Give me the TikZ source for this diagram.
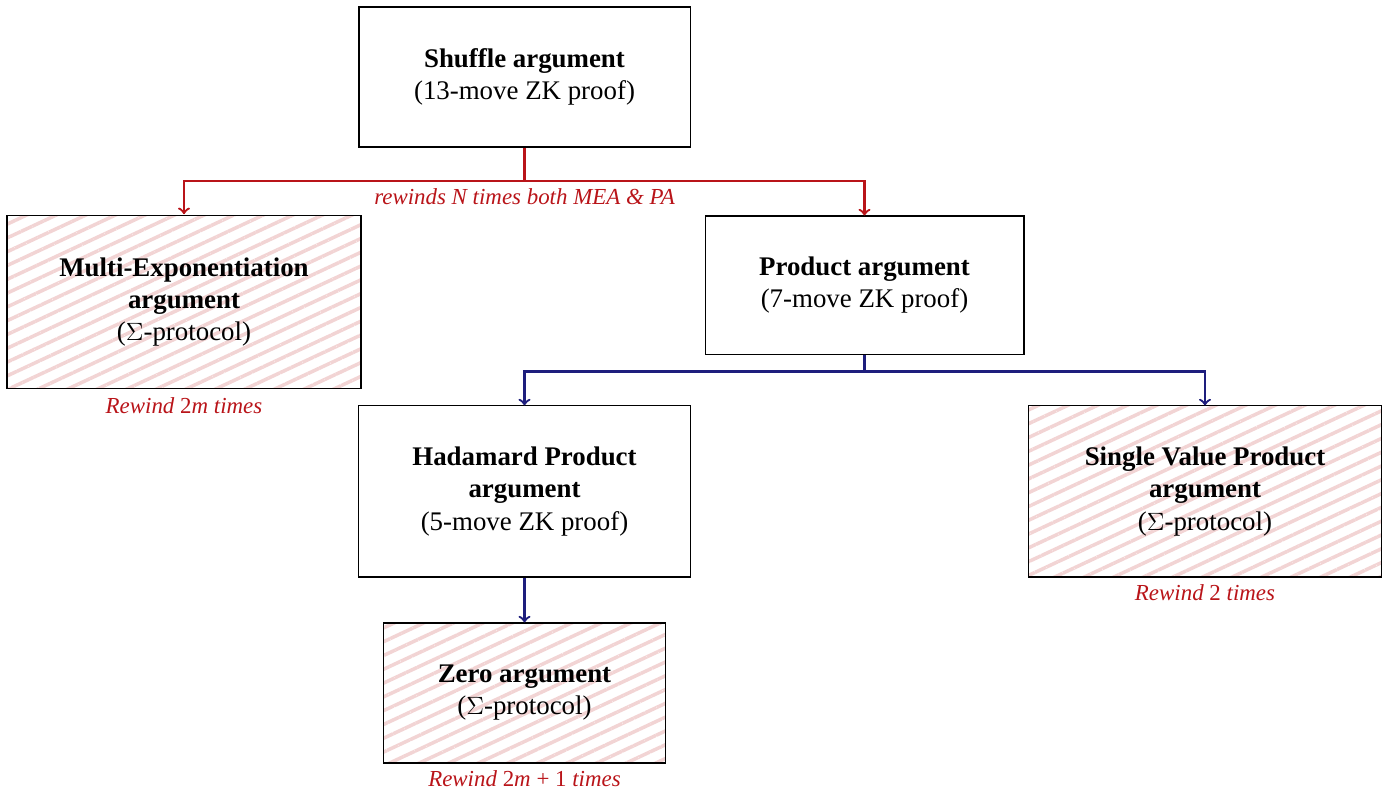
\documentclass[tikz,border=0pt]{standalone}
\usepackage{fontspec}
\setmainfont{Liberation Serif}
\usetikzlibrary{positioning, patterns.meta}

\definecolor{rewindred}{RGB}{185,20,25}
\definecolor{callblue}{RGB}{30,30,125}
\definecolor{hatchpink}{RGB}{242,212,212}

\tikzset{
  argbox/.style={draw, line width=0.5pt, align=center,
    font=\fontsize{12.9}{15.4}\selectfont},
  hatchbox/.style={argbox,
    pattern={Lines[angle=25,distance=6pt,line width=1.7pt]},
    pattern color=hatchpink},
  rewindnote/.style={text=rewindred, font=\fontsize{11}{13}\selectfont\itshape},
  redcall/.style={draw=rewindred, line width=1.1pt, ->},
  bluecall/.style={draw=callblue, line width=1.1pt, ->}
}

\begin{document}
\begin{tikzpicture}[x=0.48pt, y=-0.48pt]
\useasboundingbox (0,0) rectangle (1391,793);
% Top level: shuffle argument
\node[argbox, minimum width=158.9pt, minimum height=67.2pt] (shuffle) at (524.5,77)
  {\textbf{Shuffle argument}\\(13-move ZK proof)};
% Second level
\node[hatchbox, minimum width=169.9pt, minimum height=82.6pt] (mea) at (184,302)
  {\textbf{Multi-Exponentiation}\\\textbf{argument}\\($\Sigma$-protocol)};
\node[argbox, minimum width=153.1pt, minimum height=66.7pt] (product) at (864.5,285.5)
  {\textbf{Product argument}\\(7-move ZK proof)};
% Third level
\node[argbox, minimum width=159.8pt, minimum height=82.1pt] (hadamard) at (524.5,491.5)
  {\textbf{Hadamard Product}\\\textbf{argument}\\(5-move ZK proof)};
\node[hatchbox, minimum width=169pt, minimum height=82.1pt] (svp) at (1205,491.5)
  {\textbf{Single Value Product}\\\textbf{argument}\\($\Sigma$-protocol)};
% Bottom level
\node[hatchbox, minimum width=135.8pt, minimum height=67.2pt] (zero) at (524.5,693)
  {\textbf{Zero argument}\\($\Sigma$-protocol)};
% Rewinding notes
\node[rewindnote, below=0pt of mea] (meanote) {Rewind \textup{2}m times};
\node[rewindnote, below=0pt of svp] (svpnote) {Rewind \textup{2} times};
\node[rewindnote, below=0pt of zero] (zeronote) {Rewind \textup{2}m \textup{+ 1} times};
% Calls from the shuffle argument
\coordinate (shufflesplit) at ([yshift=-16pt]shuffle.south);
\draw[redcall] (shuffle.south) -- (shufflesplit) -| (mea.north);
\draw[redcall] (shufflesplit) -| (product.north);
\node[rewindnote, below=0pt of shufflesplit] (shufflenote) {rewinds N times both MEA \& PA};
% Calls from the product argument
\coordinate (productsplit) at ([yshift=-7.7pt]product.south);
\draw[bluecall] (product.south) -- (productsplit) -| (hadamard.north);
\draw[bluecall] (productsplit) -| (svp.north);
\draw[bluecall] (hadamard.south) -- (zero.north);
\end{tikzpicture}
\end{document}
